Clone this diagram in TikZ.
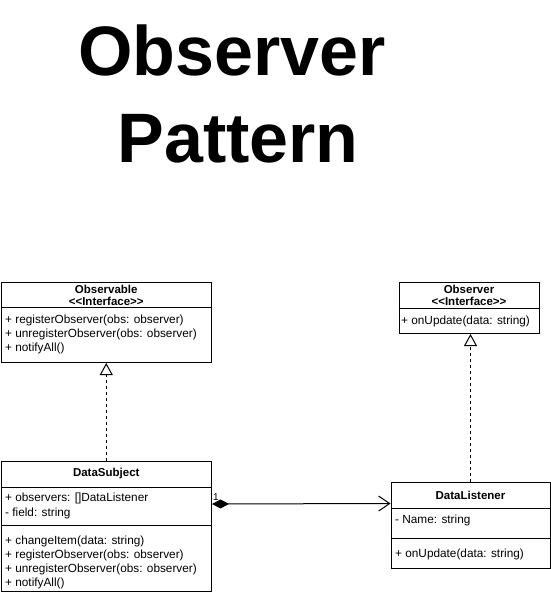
\documentclass[tikz,border=0pt]{standalone}
\usepackage{fontspec}
\setmainfont{Liberation Sans}
\usetikzlibrary{positioning, arrows.meta}

\tikzset{
  classbox/.style={draw=black, fill=white, line width=1pt, inner sep=0pt, anchor=north west},
  member/.style={font=\fontsize{11.8}{13}\selectfont, anchor=west, inner sep=0pt},
  header/.style={font=\fontsize{11.5}{13}\selectfont\bfseries, inner sep=0pt},
  sepline/.style={line width=1pt},
  realize/.style={dashed, line width=1pt, -{Triangle[open, length=12pt, width=13pt]}},
  compose/.style={line width=1pt, {Diamond[length=17pt, width=9pt]}-{Straight Barb[length=11pt, width=15pt]}},
  bigtitle/.style={font=\fontsize{70}{88}\selectfont\bfseries, anchor=base, inner sep=0pt}
}
\newcommand{\stereo}{<\kern0pt<Interface>\kern0pt>}

\begin{document}
\begin{tikzpicture}[x=1pt, y=-1pt]
  \useasboundingbox (0,0) rectangle (551,594);
  % title
  \node[bigtitle] (title1) at (232,75) {Observer};
  \node[bigtitle] (title2) at (238,162) {Pattern};

  % Observable interface
  \node[classbox, minimum width=210.5, minimum height=80] (observable) at (0.5,282) {};
  \draw[sepline] (observable.west |- 0,307) -- (observable.east |- 0,307);
  \node[header] (observable-name) at (observable.north |- 0,289) {Observable};
  \node[header] (observable-kind) at (observable.north |- 0,301) {\stereo};
  \node[member] (observable-m1) at (5,320) {+ registerObserver(obs: observer)};
  \node[member] (observable-m2) at (5,334) {+ unregisterObserver(obs: observer)};
  \node[member] (observable-m3) at (5,348) {+ notifyAll()};

  % Observer interface
  \node[classbox, minimum width=140, minimum height=51] (observer) at (398.5,282) {};
  \draw[sepline] (observer.west |- 0,308) -- (observer.east |- 0,308);
  \node[header] (observer-name) at (observer.north |- 0,289) {Observer};
  \node[header] (observer-kind) at (observer.north |- 0,301) {\stereo};
  \node[member] (observer-m1) at (401,321) {+ onUpdate(data: string)};

  % DataSubject class
  \node[classbox, minimum width=210.5, minimum height=130] (datasubject) at (0.5,460.5) {};
  \draw[sepline] (datasubject.west |- 0,487) -- (datasubject.east |- 0,487);
  \draw[sepline] (datasubject.west |- 0,525) -- (datasubject.east |- 0,525);
  \node[header] (datasubject-name) at (datasubject.north |- 0,474) {DataSubject};
  \node[member] (datasubject-a1) at (5,498) {+ observers: []DataListener};
  \node[member] (datasubject-a2) at (5,513) {- field: string};
  \node[member] (datasubject-m1) at (5,541) {+ changeItem(data: string)};
  \node[member] (datasubject-m2) at (5,555) {+ registerObserver(obs: observer)};
  \node[member] (datasubject-m3) at (5,569) {+ unregisterObserver(obs: observer)};
  \node[member] (datasubject-m4) at (5,583) {+ notifyAll()};

  % DataListener class
  \node[classbox, minimum width=159, minimum height=86] (datalistener) at (390.5,482) {};
  \draw[sepline] (datalistener.west |- 0,508) -- (datalistener.east |- 0,508);
  \draw[sepline] (datalistener.west |- 0,538) -- (datalistener.east |- 0,538);
  \node[header] (datalistener-name) at (datalistener.north |- 0,495) {DataListener};
  \node[member] (datalistener-a1) at (395,520) {- Name: string};
  \node[member] (datalistener-m1) at (395,554) {+ onUpdate(data: string)};

  % relations
  \draw[realize] (datasubject.north) -- (observable.south);
  \draw[realize] (datalistener.north) -- (datalistener.north |- observer.south);
  \draw[compose] ([yshift=22pt]datasubject.east) -- ([yshift=22pt]datalistener.west);
  \node[font=\fontsize{10}{12}\selectfont, anchor=south west, inner sep=1pt] (mult)
    at ([yshift=24pt]datasubject.east) {1};
\end{tikzpicture}
\end{document}
